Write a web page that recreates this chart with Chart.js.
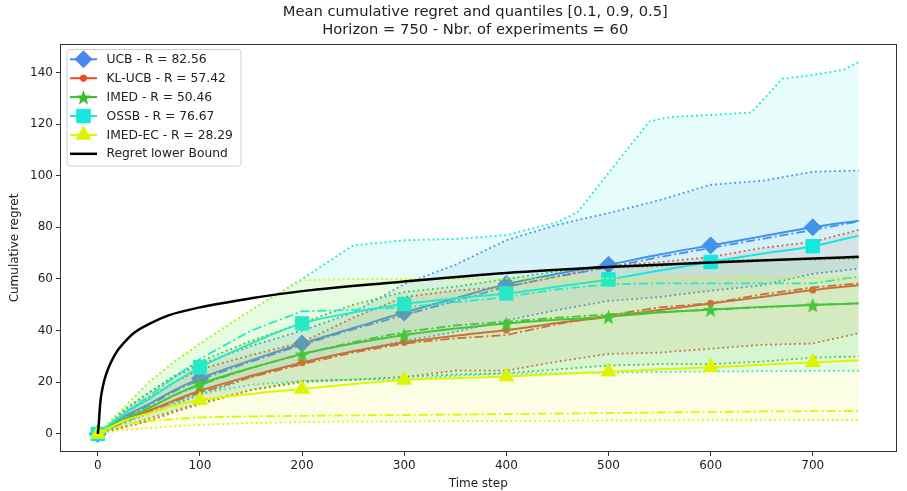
<!DOCTYPE html>
<html>
<head>
<meta charset="utf-8">
<script src="https://cdn.jsdelivr.net/npm/chart.js@4.4.1/dist/chart.umd.min.js"></script>
<style>
  html, body { margin: 0; padding: 0; background: #fff; overflow: hidden; }
</style>
</head>
<body>
<canvas id="regret" width="907" height="491"></canvas>
<script>
const steps = [0, 25, 50, 75, 100, 150, 200, 250, 300, 350, 400, 450, 500, 550, 600, 650, 700, 745];

const algoNames = ['UCB', 'KL-UCB', 'IMED', 'OSSB', 'IMED-EC'];
const finalRegret = ['82.56', '57.42', '50.46', '76.67', '28.29'];

const ucbMean   = [0, 6.5, 11.5, 17, 21.5, 28.5, 35, 41, 47, 52.5, 58, 62, 65.5, 69.5, 73, 76.5, 80, 82.6];
const ucbMedian = [0, 6, 11, 16.5, 21, 28, 34.5, 40.5, 46, 51.5, 57, 61, 64.5, 68.5, 72, 75.5, 79, 82.3];
const ucbQ90    = [0, 9, 16, 22, 27, 34, 40, 47, 58, 65.5, 75, 81, 85.5, 90.5, 96.5, 98, 101.5, 102];
const ucbQ10    = [0, 4, 8, 11.5, 15, 22, 28, 32, 36, 39.5, 44, 48, 51.5, 53, 55.5, 57.5, 62, 64];

const klMean   = [0, 5, 9, 13, 16.7, 22.5, 27.6, 32, 35.5, 38, 40.2, 43, 45.3, 48, 50.5, 53, 55.7, 57.6];
const klMedian = [0, 4.5, 8.5, 12.5, 16, 22, 27, 31.5, 35, 37, 38.3, 42.5, 46, 49, 50.6, 54, 56.7, 58.3];
const klQ90    = [0, 8, 14, 20, 25, 30.5, 35.5, 45, 53, 55.5, 57, 61, 65, 66.5, 68.5, 72, 74.4, 79];
const klQ10    = [0, 2.5, 5, 8.5, 11.5, 17, 20.5, 21, 22, 24.5, 24.5, 28, 31, 31.5, 33, 34.5, 35, 39];

const imedMean   = [0, 5.5, 10, 15, 19.3, 25.5, 30.9, 35, 38.3, 40.8, 42.8, 44.2, 45.4, 47, 48.2, 49.2, 49.9, 50.6];
const imedMedian = [0, 5.5, 10, 15, 19, 25.5, 31, 35.5, 39.5, 42, 43.5, 45, 46.3, 47.3, 48, 49, 50, 50.5];
const imedQ90    = [0, 9, 16, 22.5, 28, 36, 43, 50, 55, 57, 60, 63, 64.5, 65, 67, 67.5, 67.5, 68];
const imedQ10    = [0, 3, 6, 9, 12, 17, 20, 21, 22, 23, 23.5, 25, 26.5, 27, 27, 28, 29.5, 30];

const ossbMean   = [0, 7.5, 13.5, 20, 25.8, 35, 42.8, 47, 50.3, 52.5, 54.4, 57, 59.8, 63.3, 66.6, 69.8, 72.7, 76.8];
const ossbMedian = [0, 8, 14.5, 22, 29, 40, 47.5, 48, 49, 51, 53, 56, 58, 58.3, 58.3, 58.3, 58.3, 61];
const ossbQ10    = [0, 4, 8, 12, 15.5, 19, 20.5, 21, 21, 22.5, 23.3, 23.5, 23.7, 24, 24.2, 24.3, 24.4, 24.4];
// the OSSB upper quantile has sharp jumps, so it was read at its own steps
const ossbQ90Steps = [0, 25, 50, 75, 100, 150, 200, 250, 300, 350, 400, 450, 470, 490, 510, 540, 560, 600, 640, 655, 670, 700, 730, 745];
const ossbQ90      = [0, 10, 20, 28, 35, 48, 60, 73, 75, 75.5, 77, 82, 86, 96, 106, 121, 122.7, 123.5, 124.5, 131, 137.5, 139, 141, 144];

const ecMean   = [0, 5, 8, 11, 13.1, 15.5, 17.4, 19.3, 20.9, 21.6, 22.2, 23.2, 24.1, 25, 25.8, 26.8, 27.7, 28.5];
const ecMedian = [0, 3.5, 5, 5.8, 6.4, 6.8, 7, 7.2, 7.3, 7.5, 7.7, 7.9, 8.1, 8.3, 8.5, 8.7, 8.8, 8.9];
const ecQ90    = [0, 10, 20, 28, 35, 48, 59.5, 60, 60, 60, 60.2, 60.2, 60.2, 60.3, 60.4, 60.5, 60.5, 60.6];
const ecQ10    = [0, 1.5, 2.2, 3, 3.5, 4.2, 4.6, 4.8, 4.8, 5, 5, 5.1, 5.2, 5.2, 5.3, 5.3, 5.4, 5.4];

const boundSteps  = [0, 1, 2, 3, 5, 8, 12, 18, 25, 35, 50, 70, 100, 150, 200, 300, 400, 500, 600, 700, 745];
const boundValues = [0, 4, 10, 14, 18.5, 23, 27, 31.5, 35, 39, 42.5, 46, 49, 52.5, 55.3, 59, 62.3, 64.6, 66.4, 67.9, 68.6];

const xTicks = [0, 100, 200, 300, 400, 500, 600, 700];
const yTicks = [0, 20, 40, 60, 80, 100, 120, 140];

const FONT = 'DejaVu Sans';

function starImage(color, size) {
    const c = document.createElement('canvas');
    c.width = c.height = size;
    const g = c.getContext('2d');
    const R = size / 2 - 0.5, r = R * 0.42;
    g.beginPath();
    for (let i = 0; i < 10; i++) {
        const ang = -Math.PI / 2 + i * Math.PI / 5;
        const rr = i % 2 ? r : R;
        g.lineTo(size / 2 + rr * Math.cos(ang), size / 2 + 1 + rr * Math.sin(ang));
    }
    g.closePath();
    g.fillStyle = color;
    g.fill();
    return c;
}

function rgba(hex, a) {
    const n = parseInt(hex.slice(1), 16);
    return `rgba(${n >> 16}, ${(n >> 8) & 255}, ${n & 255}, ${a})`;
}

const algos = [
    { mean: ucbMean, median: ucbMedian, hi: ucbQ90, lo: ucbQ10, color: '#4887ef', style: 'rectRot', r: 8.5 },
    { mean: klMean, median: klMedian, hi: klQ90, lo: klQ10, color: '#ee4a2e', style: 'circle', r: 3.2 },
    { mean: imedMean, median: imedMedian, hi: imedQ90, lo: imedQ10, color: '#3cbb2e', style: 'star', r: 8 },
    { mean: ossbMean, median: ossbMedian, hi: ossbQ90, hiSteps: ossbQ90Steps, lo: ossbQ10, color: '#14e8dc', style: 'rect', r: 9.5 },
    { mean: ecMean, median: ecMedian, hi: ecQ90, lo: ecQ10, color: '#dcf500', style: 'triangle', r: 8.5 }
];
algos.forEach(a => { if (a.style === 'star') a.img = starImage(a.color, 17); });

const pts = (ys, xs = steps) => xs.map((t, i) => ({ x: t, y: ys[i] }));
const hasMarker = t => t % 100 === 0 && t <= 700;

const datasets = [{
    label: 'Regret lower Bound',
    data: pts(boundValues, boundSteps),
    borderColor: '#000',
    borderWidth: 2.5,
    pointRadius: 0,
    cubicInterpolationMode: 'monotone',
    fill: false,
    order: 0
}];

algos.forEach((a, k) => {
    const base = 100 - k * 10;
    datasets.push({
        label: algoNames[k] + ' mean',
        data: pts(a.mean),
        borderColor: a.color,
        backgroundColor: a.color,
        borderWidth: 2,
        cubicInterpolationMode: 'monotone',
        pointStyle: a.img || a.style,
        pointRadius: steps.map(t => hasMarker(t) ? a.r : 0),
        pointBorderWidth: 1,
        fill: false,
        order: base
    });
    datasets.push({
        label: algoNames[k] + ' median',
        data: pts(a.median),
        borderColor: a.color,
        borderWidth: 1.8,
        borderDash: [9, 3, 2, 3],
        pointRadius: 0,
        fill: false,
        order: base + 1
    });
    datasets.push({
        label: algoNames[k] + ' q0.9',
        data: pts(a.hi, a.hiSteps || steps),
        borderColor: a.color,
        backgroundColor: rgba(a.color, 0.1),
        borderWidth: 1.8,
        borderDash: [1.8, 3],
        pointRadius: 0,
        fill: '+1',
        order: base + 2
    });
    datasets.push({
        label: algoNames[k] + ' q0.1',
        data: pts(a.lo),
        borderColor: a.color,
        borderWidth: 1.8,
        borderDash: [1.8, 3],
        pointRadius: 0,
        fill: false,
        order: base + 3
    });
});

function drawMarker(ctx, a, x, y) {
    ctx.fillStyle = a.color;
    ctx.strokeStyle = a.color;
    ctx.lineWidth = 1;
    const r = a.r;
    ctx.beginPath();
    if (a.img) {
        ctx.drawImage(a.img, x - a.img.width / 2, y - a.img.height / 2);
        return;
    } else if (a.style === 'rectRot') {
        ctx.moveTo(x, y - r); ctx.lineTo(x + r, y); ctx.lineTo(x, y + r); ctx.lineTo(x - r, y);
    } else if (a.style === 'circle') {
        ctx.arc(x, y, r, 0, Math.PI * 2);
    } else if (a.style === 'rect') {
        const s = r * Math.SQRT1_2;
        ctx.rect(x - s, y - s, 2 * s, 2 * s);
    } else if (a.style === 'triangle') {
        ctx.moveTo(x, y - r);
        ctx.lineTo(x + r * 0.866, y + r * 0.5);
        ctx.lineTo(x - r * 0.866, y + r * 0.5);
    }
    ctx.closePath();
    ctx.fill();
    ctx.stroke();
}

const overlay = {
    id: 'overlay',
    afterDraw(chart) {
        const { ctx, chartArea: area } = chart;
        ctx.save();
        // axes frame
        ctx.strokeStyle = '#333';
        ctx.lineWidth = 1;
        ctx.strokeRect(Math.round(area.left) + 0.5, Math.round(area.top) + 0.5,
            Math.round(area.right - area.left) - 1, Math.round(area.bottom - area.top) - 1);

        // titles
        const cx = (area.left + area.right) / 2;
        ctx.fillStyle = '#222';
        ctx.textAlign = 'center';
        ctx.textBaseline = 'middle';
        ctx.font = `14.7px "${FONT}"`;
        ctx.fillText('Mean cumulative regret and quantiles [0.1, 0.9, 0.5]', cx - 3, 12.5);
        ctx.fillText('Horizon = 750 - Nbr. of experiments = 60', cx - 3, 30);
        ctx.font = `12px "${FONT}"`;
        ctx.fillText('Time step', cx, 484);
        ctx.save();
        ctx.translate(15, (area.top + area.bottom) / 2);
        ctx.rotate(-Math.PI / 2);
        ctx.fillText('Cumulative regret', 0, 0);
        ctx.restore();

        // legend
        const lx = 67, ly = 49.5, lw = 174, lh = 116.5, rad = 3;
        ctx.beginPath();
        ctx.moveTo(lx + rad, ly);
        ctx.arcTo(lx + lw, ly, lx + lw, ly + lh, rad);
        ctx.arcTo(lx + lw, ly + lh, lx, ly + lh, rad);
        ctx.arcTo(lx, ly + lh, lx, ly, rad);
        ctx.arcTo(lx, ly, lx + lw, ly, rad);
        ctx.closePath();
        ctx.fillStyle = 'rgba(255,255,255,0.8)';
        ctx.fill();
        ctx.strokeStyle = '#d0d0d0';
        ctx.stroke();

        const labels = algoNames.map((n, k) => `${n} - R = ${finalRegret[k]}`).concat(['Regret lower Bound']);
        labels.forEach((txt, i) => {
            const y = 59.3 + 18.9 * i;
            const a = algos[i];
            ctx.beginPath();
            ctx.moveTo(70, y);
            ctx.lineTo(97, y);
            ctx.strokeStyle = a ? a.color : '#000';
            ctx.lineWidth = a ? 2 : 2.5;
            ctx.stroke();
            if (a) drawMarker(ctx, a, 83.5, y);
            ctx.fillStyle = '#222';
            ctx.textAlign = 'left';
            ctx.font = `12.3px "${FONT}"`;
            ctx.fillText(txt, 106.5, y + 0.5);
        });
        ctx.restore();
    }
};

const tickFont = { family: FONT, size: 12 };

new Chart(document.getElementById('regret'), {
    type: 'line',
    data: { datasets },
    options: {
        responsive: false,
        animation: false,
        devicePixelRatio: 1,
        layout: { padding: { top: 44, right: 6, left: 0, bottom: 0 } },
        plugins: { legend: { display: false }, tooltip: { enabled: false }, title: { display: false } },
        elements: { line: { tension: 0 } },
        scales: {
            x: {
                type: 'linear',
                min: -37,
                max: 782,
                afterBuildTicks: s => { s.ticks = xTicks.map(v => ({ value: v })); },
                afterFit: s => { s.height = 39; },
                grid: { drawOnChartArea: false, drawTicks: true, tickLength: 4, color: '#333' },
                border: { display: false },
                ticks: { font: tickFont, color: '#222', padding: 3, maxRotation: 0, autoSkip: false }
            },
            y: {
                type: 'linear',
                min: -7,
                max: 151,
                afterBuildTicks: s => { s.ticks = yTicks.map(v => ({ value: v })); },
                afterFit: s => { s.width = 60; },
                grid: { drawOnChartArea: false, drawTicks: true, tickLength: 4, color: '#333' },
                border: { display: false },
                ticks: { font: tickFont, color: '#222', padding: 3, autoSkip: false }
            }
        }
    },
    plugins: [overlay]
});
</script>
</body>
</html>
